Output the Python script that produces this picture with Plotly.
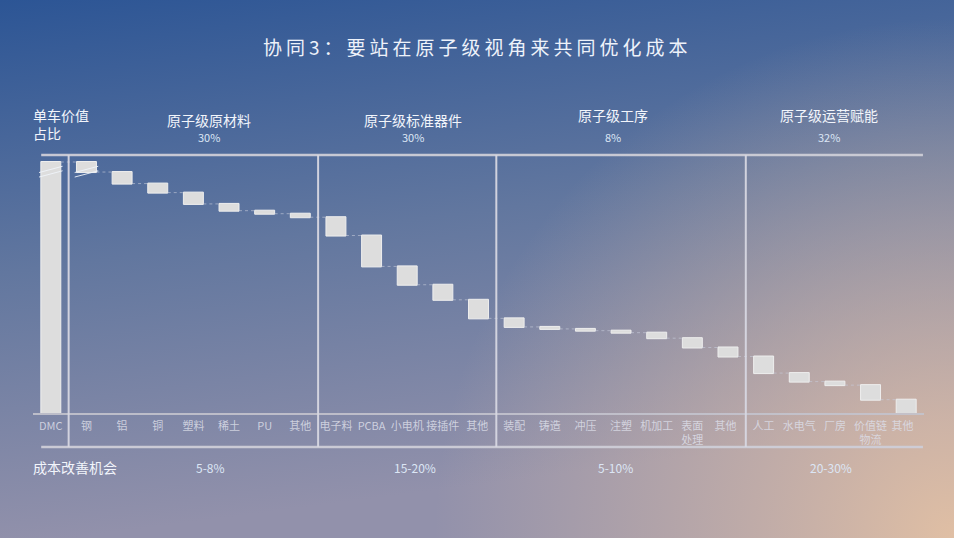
import base64
import plotly.graph_objects as go

# ---------------- data ----------------
categories = ["DMC", "钢", "铝", "铜", "塑料", "稀土", "PU", "其他",
              "电子料", "PCBA", "小电机", "接插件", "其他 ",
              "装配", "铸造", "冲压", "注塑", "机加工", "表面<br>处理", "其他  ",
              "人工", "水电气", "厂房", "价值链<br>物流", "其他   "]
dmc_total = 100.0
component_shares = [4.0, 4.6, 3.6, 4.5, 2.7, 1.2, 1.4,
                    7.3, 12.3, 7.3, 6.0, 7.4,
                    3.4, 0.8, 0.7, 0.8, 2.2, 3.7, 3.6,
                    6.6, 3.4, 1.4, 5.8, 5.3]
group_names = ["原子级原材料", "原子级标准器件", "原子级工序", "原子级运营赋能"]
group_shares = ["30%", "30%", "8%", "32%"]
group_opportunity = ["5-8%", "15-20%", "5-10%", "20-30%"]
group_sizes = [7, 5, 7, 5]

# ---------------- geometry ----------------
FW, FH = 954, 538
L, R, T, B = 33, 30, 155, 125
PW, PH = FW - L - R, FH - T - B


def px_x(p):
    return (p - L) / PW


def px_y(p):
    return (FH - B - p) / PH


# ---------------- background ----------------
svg = f'''<svg xmlns="http://www.w3.org/2000/svg" width="{FW}" height="{FH}" viewBox="0 0 {FW} {FH}" preserveAspectRatio="none">
<defs>
<linearGradient id="g" x1="0" y1="0" x2="70" y2="538" gradientUnits="userSpaceOnUse">
<stop offset="0" stop-color="#2c5595"/>
<stop offset="0.5" stop-color="#62779f"/>
<stop offset="1" stop-color="#9291ab"/>
</linearGradient>
<radialGradient id="r" cx="954" cy="538" r="520" gradientUnits="userSpaceOnUse">
<stop offset="0" stop-color="#e0bfa4" stop-opacity="1"/>
<stop offset="0.35" stop-color="#dcbca6" stop-opacity="0.65"/>
<stop offset="1" stop-color="#d8baa8" stop-opacity="0"/>
</radialGradient>
</defs>
<rect width="{FW}" height="{FH}" fill="url(#g)"/>
<rect width="{FW}" height="{FH}" fill="url(#r)"/>
</svg>'''
bg_uri = "data:image/svg+xml;base64," + base64.b64encode(svg.encode("utf-8")).decode("ascii")

# ---------------- figure ----------------
bar_color = "#dddddd"
fig = go.Figure(go.Waterfall(
    x=categories,
    y=[dmc_total] + [-v for v in component_shares],
    measure=["absolute"] + ["relative"] * len(component_shares),
    width=0.56,
    increasing=dict(marker=dict(color=bar_color, line=dict(color="#eeeeee", width=1))),
    decreasing=dict(marker=dict(color=bar_color, line=dict(color="#eeeeee", width=1))),
    totals=dict(marker=dict(color=bar_color, line=dict(color="#eeeeee", width=1))),
    connector=dict(mode="between", line=dict(color="rgba(200,205,220,0.6)", width=1, dash="dot")),
    hoverinfo="x+y",
))

CJK = "Noto Sans CJK SC"
shapes = []
line_col = "rgba(215,215,225,0.95)"

# top and bottom horizontal rules
for yp, w in [(155, 2.5), (447, 2.5)]:
    shapes.append(dict(type="line", xref="x", yref="paper", x0=-0.27, x1=24.47,
                       y0=px_y(yp), y1=px_y(yp), line=dict(color="rgba(205,205,215,0.95)", width=w)))

# vertical separators between groups (category boundaries)
bound = 0.5
bounds = [bound]
for s in group_sizes[:-1]:
    bound += s
    bounds.append(bound)
for bx in bounds:
    shapes.append(dict(type="line", xref="x", yref="paper", x0=bx, x1=bx,
                       y0=px_y(447), y1=1, line=dict(color=line_col, width=2)))

# axis-break marks on the first two bars
for idx in (0, 1):
    for off in (0.0, 1.8):
        shapes.append(dict(type="line", xref="x", yref="y",
                           x0=idx - 0.33, x1=idx + 0.33,
                           y0=dmc_total - 6.0 + off, y1=dmc_total - 3.5 + off,
                           line=dict(color="rgba(240,244,250,0.9)", width=1)))

annotations = []
# title
annotations.append(dict(
    xref="paper", yref="paper", x=px_x(477), y=px_y(47), xanchor="center", yanchor="middle",
    text='<span style="letter-spacing:4px">协同3：要站在原子级视角来共同优化成本</span>',
    showarrow=False, font=dict(family=CJK, size=19, color="#eef2fa")))

# left headings
annotations.append(dict(
    xref="paper", yref="paper", x=px_x(31), y=px_y(124), xanchor="left", yanchor="middle",
    text="单车价值<br>占比", align="left", showarrow=False,
    font=dict(family=CJK, size=14, color="#f2f5fb")))
annotations.append(dict(
    xref="paper", yref="paper", x=px_x(31), y=px_y(467), xanchor="left", yanchor="middle",
    text="成本改善机会", showarrow=False,
    font=dict(family=CJK, size=14, color="#f2f5fb")))

head_x = [208.5, 412.7, 613, 829]
head_y = [120, 120, 115, 115]
for name, share, opp, hx, hy in zip(group_names, group_shares, group_opportunity, head_x, head_y):
    annotations.append(dict(
        xref="paper", yref="paper", x=px_x(hx), y=px_y(hy), xanchor="center", yanchor="middle",
        text=name, showarrow=False, font=dict(family=CJK, size=14, color="#f2f5fb")))
    annotations.append(dict(
        xref="paper", yref="paper", x=px_x(hx), y=px_y(137), xanchor="center", yanchor="middle",
        text=share, showarrow=False, font=dict(family=CJK, size=11, color="#dce6f5")))
    annotations.append(dict(
        xref="paper", yref="paper", x=px_x(hx + 2), y=px_y(467), xanchor="center", yanchor="middle",
        text=opp, showarrow=False, font=dict(family=CJK, size=12, color="#dce6f5")))

fig.update_layout(
    width=FW, height=FH,
    margin=dict(l=L, r=R, t=T, b=B, pad=0),
    paper_bgcolor="#5e73a0",
    plot_bgcolor="rgba(0,0,0,0)",
    showlegend=False,
    images=[dict(source=bg_uri, xref="paper", yref="paper",
                 x=-L / PW, y=1 + T / PH, sizex=FW / PW, sizey=FH / PH,
                 sizing="stretch", xanchor="left", yanchor="top", layer="below")],
    shapes=shapes,
    annotations=annotations,
    xaxis=dict(type="category", range=[-0.5, len(categories) - 0.5],
               showgrid=False, zeroline=False, showline=True,
               linecolor="rgba(195,195,205,0.9)", linewidth=1.5,
               ticks="", tickfont=dict(family=CJK, size=11, color="rgba(220,222,232,0.85)"),
               ticklabelstandoff=2, fixedrange=True),
    yaxis=dict(range=[0, PH / 2.51], showgrid=False, zeroline=False, showline=False,
               showticklabels=False, ticks="", fixedrange=True),
)

fig.write_html("out.html", config={"displayModeBar": False},
               post_script="document.body.style.margin='0';document.body.style.overflow='hidden';")
